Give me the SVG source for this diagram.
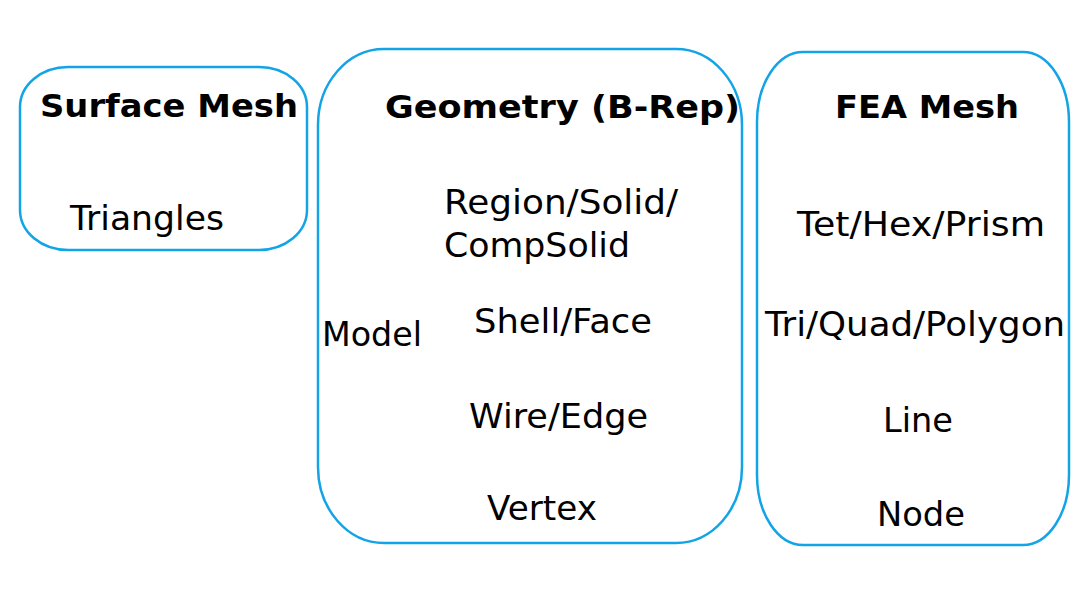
<svg xmlns="http://www.w3.org/2000/svg" width="1080" height="608" viewBox="0 0 1080 608">
<style>
.box{fill:#fff;stroke:#12a4e6;stroke-width:2.5}
.t{font-family:"DejaVu Sans",Verdana,sans-serif;font-size:33px;fill:#000}
.h{font-family:"DejaVu Sans",Verdana,sans-serif;font-size:32px;font-weight:bold;fill:#000}
</style>
<rect width="1080" height="608" fill="#fff"/>
<g id="surface-mesh">
<rect class="box" x="20" y="67" width="287" height="183" rx="48" ry="40"/>
<text class="h" x="40" y="117" textLength="258" lengthAdjust="spacingAndGlyphs">Surface Mesh</text>
<text class="t" x="70" y="230" textLength="154" lengthAdjust="spacingAndGlyphs">Triangles</text>
</g>
<g id="geometry">
<rect class="box" x="318" y="49" width="424" height="494" rx="66" ry="76"/>
<text class="h" x="385" y="118" textLength="355" lengthAdjust="spacingAndGlyphs">Geometry (B-Rep)</text>
<text class="t" x="444" y="214" textLength="234" lengthAdjust="spacingAndGlyphs">Region/Solid/</text>
<text class="t" x="444" y="257" textLength="186" lengthAdjust="spacingAndGlyphs">CompSolid</text>
<text class="t" x="322" y="346" textLength="100" lengthAdjust="spacingAndGlyphs">Model</text>
<text class="t" x="474" y="333" textLength="178" lengthAdjust="spacingAndGlyphs">Shell/Face</text>
<text class="t" x="469" y="428" textLength="179" lengthAdjust="spacingAndGlyphs">Wire/Edge</text>
<text class="t" x="487" y="520" textLength="110" lengthAdjust="spacingAndGlyphs">Vertex</text>
</g>
<g id="fea-mesh">
<rect class="box" x="757" y="52" width="312" height="493" rx="46" ry="70"/>
<text class="h" x="835" y="118" textLength="184" lengthAdjust="spacingAndGlyphs">FEA Mesh</text>
<text class="t" x="797" y="236" textLength="248" lengthAdjust="spacingAndGlyphs">Tet/Hex/Prism</text>
<text class="t" x="765" y="336" textLength="300" lengthAdjust="spacingAndGlyphs">Tri/Quad/Polygon</text>
<text class="t" x="883" y="432" textLength="70" lengthAdjust="spacingAndGlyphs">Line</text>
<text class="t" x="877" y="526" textLength="88" lengthAdjust="spacingAndGlyphs">Node</text>
</g>
<g id="connectors"></g>
</svg>
